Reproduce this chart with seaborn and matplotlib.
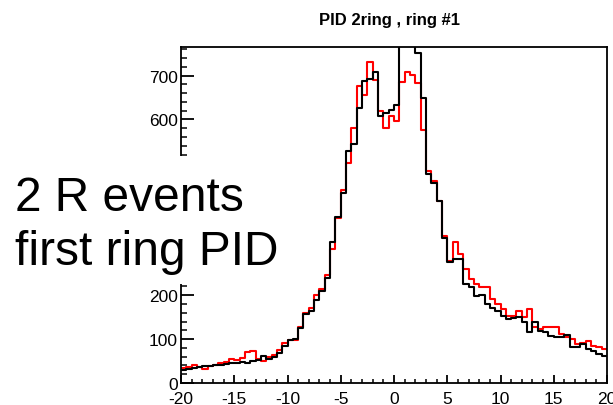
import numpy as np
import pandas as pd
import matplotlib
matplotlib.use("Agg")
import matplotlib.pyplot as plt
import seaborn as sns
from matplotlib.patches import Rectangle
from matplotlib.ticker import MultipleLocator

# 80 bins of width 0.5 spanning the PID range
pid_range = (-20, 20)
bin_width = 0.5
bin_centers = np.arange(pid_range[0] + bin_width / 2, pid_range[1], bin_width)

# black histogram (upper set)
counts_black = [
    30, 33, 35, 37, 38, 38, 40, 42, 43, 45, 46, 47, 45, 50, 53, 62, 55, 60, 68, 85,
    98, 100, 125, 157, 165, 190,
    210, 240, 320, 377, 432, 528, 545, 625, 687, 692, 707, 607, 615, 622, 632,
    880, 920, 850, 752, 648, 475, 456, 415, 331,
    275, 282, 282, 225, 218, 198, 200, 180, 170, 165, 153, 145, 147, 150, 138,
    116, 140, 119, 115, 107, 105, 104, 110, 82, 83, 89, 78, 72, 66, 62,
]

# red histogram
counts_red = [
    35, 37, 40, 36, 31, 38, 42, 45, 48, 55, 52, 58, 70, 72, 55, 50, 60, 64, 75, 92,
    97, 98, 128, 160, 170, 200,
    215, 245, 305, 375, 440, 500, 580, 676, 655, 730, 690, 619, 581, 608, 596,
    685, 707, 702, 682, 575, 482, 460, 415, 335,
    278, 320, 293, 259, 236, 225, 218, 218, 191, 180, 168, 153, 153, 164, 150,
    168, 127, 123, 127, 127, 127, 111, 105, 100, 89, 92, 96, 85, 81, 78,
]

x_ticks = [-20, -15, -10, -5, 0, 5, 10, 15, 20]
x_ticklabels = ["-20", "-15", "-10", "-5", "0", "5", "10", "15", "20"]
y_ticks = [0, 100, 200, 300, 400, 500, 600, 700]
# labels for 300-500 sit under the annotation panel
y_ticklabels = ["0", "100", "200", "", "", "", "600", "700"]
title_text = "PID 2ring , ring #1"
note_lines = ["2 R events", "first ring PID"]

df_red = pd.DataFrame({"pid": bin_centers, "n": counts_red})
df_black = pd.DataFrame({"pid": bin_centers, "n": counts_black})

sns.set_style("ticks")
plt.rcParams["font.family"] = ["Liberation Sans", "DejaVu Sans"]
plt.rcParams["axes.unicode_minus"] = False
plt.rcParams["text.color"] = "black"

W, H = 613, 406
fig = plt.figure(figsize=(W / 100, H / 100), dpi=100)
ax = fig.add_axes([181 / W, 1 - 384 / H, (607 - 181) / W, (384 - 48) / H])

sns.histplot(data=df_red, x="pid", weights="n", binwidth=bin_width,
             binrange=pid_range, element="step", fill=False, color="#ff0000",
             linewidth=1.5, ax=ax)
sns.histplot(data=df_black, x="pid", weights="n", binwidth=bin_width,
             binrange=pid_range, element="step", fill=False, color="black",
             linewidth=1.5, ax=ax)

ax.set_xlim(*pid_range)
ax.set_ylim(0, 765)
ax.set_xlabel("")
ax.set_ylabel("")
ax.set_xticks(x_ticks)
ax.set_xticklabels(x_ticklabels)
ax.set_yticks(y_ticks)
ax.set_yticklabels(y_ticklabels)
ax.xaxis.set_minor_locator(MultipleLocator(1))
ax.yaxis.set_minor_locator(MultipleLocator(20))
for s in ax.spines.values():
    s.set_linewidth(1.3)
    s.set_color("black")
ax.tick_params(axis="x", which="major", direction="in", length=6, width=1.3,
               labelsize=12.5, pad=5.5, colors="black")
ax.tick_params(axis="x", which="minor", direction="in", length=3, width=1.3)
ax.tick_params(axis="y", which="major", direction="in", length=9, width=1.3,
               labelsize=12.5, pad=2.5, colors="black")
ax.tick_params(axis="y", which="minor", direction="in", length=4.5, width=1.3)

fig.text(389.5 / W, 1 - 25 / H, title_text, ha="center", va="baseline",
         fontsize=12, fontweight="bold", color="black")

# white panel with the annotation laid over the left axis
fig.add_artist(Rectangle((0, 1 - 285 / H), 300 / W, (285 - 157) / H,
                         transform=fig.transFigure, facecolor="white",
                         edgecolor="none", zorder=2))
fig.text(15 / W, 1 - 211 / H, note_lines[0], ha="left", va="baseline",
         fontsize=34.5, color="black", zorder=3)
fig.text(15 / W, 1 - 265 / H, note_lines[1], ha="left", va="baseline",
         fontsize=34.5, color="black", zorder=3)

fig.savefig("out.png", dpi=100)
